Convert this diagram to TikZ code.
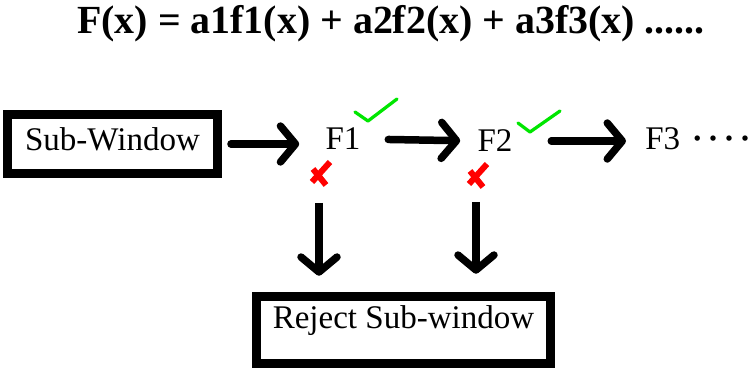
\documentclass[tikz,border=0pt]{standalone}
\usepackage{fontspec}
\setmainfont{Liberation Serif}
\usetikzlibrary{arrows.meta,positioning}
\definecolor{okgreen}{RGB}{0,230,0}
\definecolor{nored}{RGB}{255,0,0}

\begin{document}
\begin{tikzpicture}[
  x=0.02cm, y=-0.02cm,
  every node/.style={font=\fontsize{18.8}{22}\selectfont},
  box/.style={draw, line width=0.18cm, minimum width=4.2cm, minimum height=1.2cm,
              inner sep=0pt},
  fname/.style={inner sep=0pt},
  flow/.style={line width=0.15cm, line cap=round,
               -{Straight Barb[length=0.3cm, width=0.72cm, line cap=round, line join=round]}},
  tick/.style={okgreen, line width=0.065cm, line cap=round, line join=round},
  cross/.style={nored, line width=0.12cm}
]
\useasboundingbox (0,0) rectangle (751,368);

\node[font=\fontsize{22.7}{27}\selectfont\bfseries] (title) at (391,24)
  {F(x) = a1f1(x) + a2f2(x) + a3f3(x) ......};

\node[box, text depth=0.21cm] (sub) at (112.5,144) {Sub-Window\hspace{0.24cm}};
\node[fname] (f1) at (343,139) {F1};
\node[fname] (f2) at (495,141) {F2};
\node[fname, anchor=west] (f3) at (645,139)
  {F3\hspace{0.35em}\textbf{·\hspace{0.15em}·\hspace{0.15em}·\hspace{0.15em}·}};

\node[box, minimum width=5.88cm, minimum height=1.33cm, text height=0.5cm, text depth=0.58cm]
  (reject) at (403.5,330) {Reject Sub-window};

% accepted / rejected marks
\coordinate (ok1) at (368,121);
\coordinate (ok2) at (530,132);
\coordinate (no1) at (319,174);
\coordinate (no2) at (476,176);

\draw[tick, shift={(ok1)}] (-13,-9) -- (0,0) -- (29,-22);
\draw[tick, shift={(ok2)}] (-12,-9) -- (0,0) -- (30,-21);
\draw[cross, shift={(no1)}] (11,-12) -- (-7,8) (-6,-5) -- (7,11);
\draw[cross, shift={(no2)}] (11,-12) -- (-7,8) (-6,-5) -- (7,11);

\draw[flow, shorten <=0.18cm, shorten >=0.52cm] (sub.east) -- (sub.east -| f1.west);
\draw[flow, shorten <=0.55cm, shorten >=0.34cm] (f1.east) -- (f2.west);
\draw[flow, shorten <=0.77cm, shorten >=0.38cm] (f2.east) -- (f2.east -| f3.west);

\draw[flow, line cap=butt, shorten <=0.58cm, shorten >=0.33cm] (no1) -- (no1 |- reject.north);
\draw[flow, line cap=butt, shorten <=0.52cm, shorten >=0.37cm] (no2) -- (no2 |- reject.north);

\end{tikzpicture}
\end{document}
